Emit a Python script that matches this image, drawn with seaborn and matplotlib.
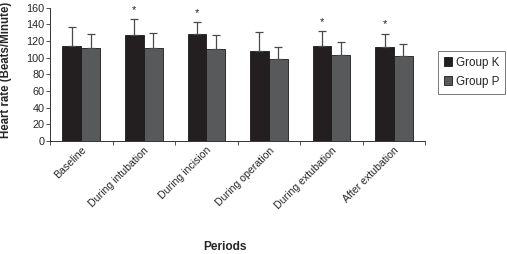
import pandas as pd
import numpy as np
import matplotlib
matplotlib.use("Agg")
import matplotlib.pyplot as plt
import seaborn as sns

periods = ["Baseline", "During intubation", "During incision",
           "During operation", "During extubation", "After extubation"]
groups = ["Group K", "Group P"]
mean_k = [113.5, 127.6, 128.0, 107.6, 113.6, 112.4]
mean_p = [112.0, 111.2, 110.0, 98.4, 103.6, 102.4]
sd_k = [22.9, 18.4, 14.8, 23.6, 18.4, 16.4]
sd_p = [16.8, 18.4, 17.2, 14.0, 14.8, 13.6]
significant = [False, True, True, False, True, True]

colors = ["#231f20", "#58595b"]

df = pd.DataFrame({
    "period": periods * 2,
    "group": [groups[0]] * 6 + [groups[1]] * 6,
    "hr": mean_k + mean_p,
    "sd": sd_k + sd_p,
})

sns.set_style("ticks")
plt.rcParams["font.family"] = ["Liberation Sans", "DejaVu Sans"]

fig = plt.figure(figsize=(5.07, 2.54), dpi=100)
ax = fig.add_axes([0.0986, 0.445, 0.74, 0.525])

sns.barplot(data=df, x="period", y="hr", hue="group", order=periods,
            hue_order=groups, palette=colors, width=0.6, errorbar=None,
            edgecolor="#1a1a1a", linewidth=0.6, saturation=1, ax=ax)

# upward-only error bars
for i, grp in enumerate(groups):
    cont = ax.containers[i]
    xs = [b.get_x() + b.get_width() / 2 for b in cont]
    sub = df[df["group"] == grp]
    ax.errorbar(xs, sub["hr"], yerr=[np.zeros(len(xs)), sub["sd"]],
                fmt="none", ecolor="#4a4a4a", elinewidth=0.9,
                capsize=2.6, capthick=0.9)
    if i == 0:
        for x, m, s, sig in zip(xs, sub["hr"], sub["sd"], significant):
            if sig:
                ax.text(x, m + s + 5, "*", ha="center", va="bottom",
                        fontsize=8, color="#222222")

ax.set_ylim(0, 160)
ax.set_yticks(range(0, 161, 20))
ax.set_xlim(-0.5, len(periods) - 0.5)
ax.set_xticks(range(len(periods)))
ax.set_xticks(np.arange(-0.5, len(periods)), minor=True)
ax.tick_params(axis="x", which="major", length=0, pad=3)
ax.tick_params(axis="x", which="minor", length=3, width=0.6, color="#333333")
ax.tick_params(axis="y", length=3, width=0.6, pad=1, labelsize=7.8,
               color="#333333")
ax.set_xticklabels(periods, rotation=45, ha="right",
                   rotation_mode="anchor", fontsize=7.6)
for sp in ["top", "right"]:
    ax.spines[sp].set_visible(False)
for sp in ["left", "bottom"]:
    ax.spines[sp].set_linewidth(0.7)
    ax.spines[sp].set_color("#333333")

ax.set_ylabel("Heart rate (Beats/Minute)", fontsize=8.3, fontweight="bold")
ax.yaxis.set_label_coords(-0.1, 0.53)
ax.set_xlabel("")
fig.text(225 / 507, 4.5 / 254, "Periods", ha="center", va="baseline",
         fontsize=8.6, fontweight="bold")

leg = ax.legend(loc="center left", bbox_to_anchor=(1.024, 0.515),
                frameon=True, fancybox=False, fontsize=8.4,
                handlelength=0.75, handleheight=0.75, handletextpad=0.3,
                borderpad=0.5, labelspacing=0.6, borderaxespad=0.3)
leg.get_frame().set_edgecolor("#555555")
leg.get_frame().set_linewidth(0.7)
leg.set_title(None)

plt.savefig("out.png", dpi=100)
